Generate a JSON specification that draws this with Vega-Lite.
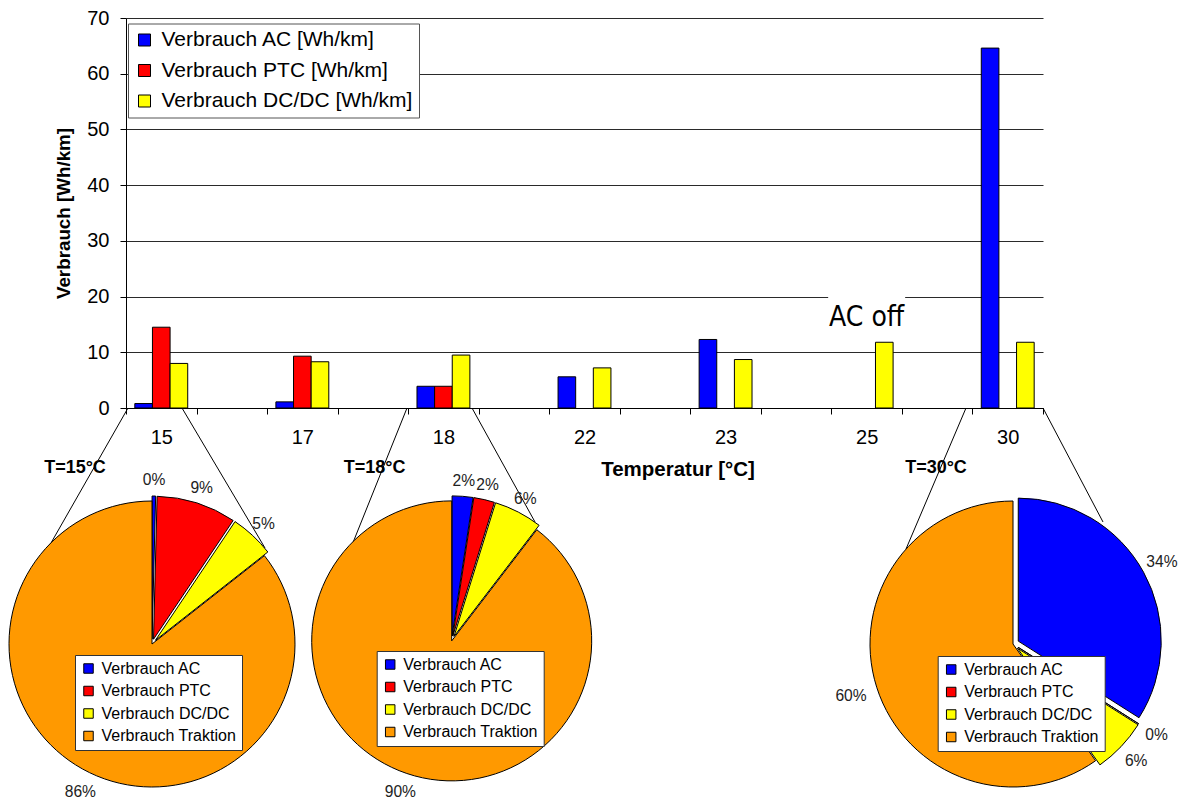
{
  "$schema": "https://vega.github.io/schema/vega-lite/v6.json",
  "width": 917,
  "height": 390,
  "autosize": "none",
  "padding": {"left": 126, "top": 18, "right": 141, "bottom": 393},
  "background": "#ffffff",
  "config": {"view": {"stroke": null}, "font": "Liberation Sans"},
  "title": {
    "text": "Verbrauch in Abhängigkeit von der Temperatur",
    "anchor": "start",
    "frame": "group",
    "dx": 379,
    "dy": -7,
    "offset": 0,
    "baseline": "alphabetic",
    "font": "Liberation Sans",
    "fontSize": 20.7,
    "fontWeight": "bold",
    "color": "#000000"
  },
  "datasets": {
    "verbrauch": [
      {"Temperatur": "15", "Reihe": "Verbrauch AC [Wh/km]", "Wert": 0.8},
      {"Temperatur": "15", "Reihe": "Verbrauch PTC [Wh/km]", "Wert": 14.5},
      {"Temperatur": "15", "Reihe": "Verbrauch DC/DC [Wh/km]", "Wert": 8.0},
      {"Temperatur": "17", "Reihe": "Verbrauch AC [Wh/km]", "Wert": 1.1},
      {"Temperatur": "17", "Reihe": "Verbrauch PTC [Wh/km]", "Wert": 9.3},
      {"Temperatur": "17", "Reihe": "Verbrauch DC/DC [Wh/km]", "Wert": 8.3},
      {"Temperatur": "18", "Reihe": "Verbrauch AC [Wh/km]", "Wert": 3.9},
      {"Temperatur": "18", "Reihe": "Verbrauch PTC [Wh/km]", "Wert": 3.9},
      {"Temperatur": "18", "Reihe": "Verbrauch DC/DC [Wh/km]", "Wert": 9.5},
      {"Temperatur": "22", "Reihe": "Verbrauch AC [Wh/km]", "Wert": 5.6},
      {"Temperatur": "22", "Reihe": "Verbrauch DC/DC [Wh/km]", "Wert": 7.2},
      {"Temperatur": "23", "Reihe": "Verbrauch AC [Wh/km]", "Wert": 12.3},
      {"Temperatur": "23", "Reihe": "Verbrauch DC/DC [Wh/km]", "Wert": 8.7},
      {"Temperatur": "25", "Reihe": "Verbrauch DC/DC [Wh/km]", "Wert": 11.8},
      {"Temperatur": "30", "Reihe": "Verbrauch AC [Wh/km]", "Wert": 64.6},
      {"Temperatur": "30", "Reihe": "Verbrauch DC/DC [Wh/km]", "Wert": 11.8}
    ],
    "anteile": [
      {"Temperatur": "15", "Nr": 1, "Posten": "Verbrauch AC", "Anteil": 0.004},
      {"Temperatur": "15", "Nr": 2, "Posten": "Verbrauch PTC", "Anteil": 0.09},
      {"Temperatur": "15", "Nr": 3, "Posten": "Verbrauch DC/DC", "Anteil": 0.05},
      {"Temperatur": "15", "Nr": 4, "Posten": "Verbrauch Traktion", "Anteil": 0.856},
      {"Temperatur": "18", "Nr": 1, "Posten": "Verbrauch AC", "Anteil": 0.024},
      {"Temperatur": "18", "Nr": 2, "Posten": "Verbrauch PTC", "Anteil": 0.024},
      {"Temperatur": "18", "Nr": 3, "Posten": "Verbrauch DC/DC", "Anteil": 0.056},
      {"Temperatur": "18", "Nr": 4, "Posten": "Verbrauch Traktion", "Anteil": 0.896},
      {"Temperatur": "30", "Nr": 1, "Posten": "Verbrauch AC", "Anteil": 0.34},
      {"Temperatur": "30", "Nr": 2, "Posten": "Verbrauch PTC", "Anteil": 0.0},
      {"Temperatur": "30", "Nr": 3, "Posten": "Verbrauch DC/DC", "Anteil": 0.062},
      {"Temperatur": "30", "Nr": 4, "Posten": "Verbrauch Traktion", "Anteil": 0.598}
    ]
  },
  "layer": [
    {
      "data": {"name": "verbrauch"},
      "mark": {"type": "bar", "stroke": "#000000", "strokeWidth": 1},
      "encoding": {
        "x": {
          "field": "Temperatur", "type": "nominal",
          "scale": {"type": "band", "domain": ["15", "_1", "17", "_2", "18", "_3", "22", "_4", "23", "_5", "25", "_6", "30"], "paddingInner": 0, "paddingOuter": 0},
          "axis": {
            "orient": "bottom", "tickBand": "extent",
            "labelExpr": "test(/^_/, '' + datum.value) ? '' : datum.label",
            "labelAngle": 0, "labelOverlap": false,
            "labelFont": "Liberation Sans", "labelFontSize": 20, "labelColor": "#000000",
            "labelBaseline": "alphabetic", "labelPadding": 29,
            "tickSize": 6, "tickColor": "#000000", "domainColor": "#000000", "grid": false,
            "title": "Temperatur [°C]", "titleFont": "Liberation Sans", "titleFontSize": 20.5,
            "titleFontWeight": "bold", "titleColor": "#000000",
            "titleX": 551.5, "titleY": 67, "titleBaseline": "alphabetic", "titleAlign": "center"
          }
        },
        "xOffset": {
          "field": "Reihe", "type": "nominal",
          "scale": {"domain": ["Verbrauch AC [Wh/km]", "Verbrauch PTC [Wh/km]", "Verbrauch DC/DC [Wh/km]"], "paddingInner": 0, "paddingOuter": 0.5}
        },
        "y": {
          "field": "Wert", "type": "quantitative",
          "scale": {"type": "linear", "domain": [0, 70], "nice": false, "zero": false},
          "axis": {
            "orient": "left", "values": [0, 10, 20, 30, 40, 50, 60, 70],
            "grid": true, "gridColor": "#2a2a2a", "gridWidth": 1,
            "tickSize": 6, "tickColor": "#000000", "domainColor": "#000000",
            "labelFont": "Liberation Sans", "labelFontSize": 20, "labelColor": "#000000", "labelPadding": 11,
            "title": "Verbrauch [Wh/km]", "titleFont": "Liberation Sans", "titleFontSize": 18.8,
            "titleFontWeight": "bold", "titleColor": "#000000", "titleX": -57, "titleBaseline": "alphabetic"
          }
        },
        "color": {
          "field": "Reihe", "type": "nominal",
          "scale": {"domain": ["Verbrauch AC [Wh/km]", "Verbrauch PTC [Wh/km]", "Verbrauch DC/DC [Wh/km]"], "range": ["#0000ff", "#ff0000", "#ffff00"]},
          "legend": {
            "orient": "none", "legendX": 2, "legendY": 5.5, "title": null,
            "symbolType": "square", "symbolSize": 144, "symbolStrokeColor": "#000000", "symbolStrokeWidth": 1,
            "labelFont": "Liberation Sans", "labelFontSize": 21, "labelColor": "#000000", "labelLimit": 400,
            "labelOffset": 6.5, "rowPadding": 8.5, "padding": 6,
            "fillColor": "#ffffff", "strokeColor": "#555555"
          }
        }
      }
    },
    {
      "data": {"values": [{"Temperatur": "25", "Hinweis": "AC off"}]},
      "mark": {"type": "bar", "fill": "#ffffff", "width": 77},
      "encoding": {
        "x": {"field": "Temperatur", "type": "nominal"},
        "y": {"datum": 15.2, "type": "quantitative"},
        "y2": {"datum": 20.4}
      }
    },
    {
      "data": {"values": [{"Temperatur": "25", "Hinweis": "AC off"}]},
      "mark": {"type": "text", "font": "DejaVu Sans Condensed", "fontSize": 28, "baseline": "alphabetic", "align": "center", "color": "#000000"},
      "encoding": {
        "x": {"field": "Temperatur", "type": "nominal"},
        "y": {"datum": 14.7, "type": "quantitative"},
        "text": {"field": "Hinweis"}
      }
    },
    {
      "data": {"values": [{"Temperatur": "15", "Seite": "links"}]},
      "mark": {"type": "rule", "color": "#000000", "strokeWidth": 1},
      "encoding": {
        "x": {"field": "Temperatur", "type": "nominal", "bandPosition": 0.0284},
        "x2": {"field": "Temperatur", "bandPosition": -1.12},
        "y": {"datum": 0, "type": "quantitative"},
        "y2": {"datum": -25.49}
      }
    },
    {
      "data": {"values": [{"Temperatur": "15", "Seite": "rechts"}]},
      "mark": {"type": "rule", "color": "#000000", "strokeWidth": 1},
      "encoding": {
        "x": {"field": "Temperatur", "type": "nominal", "bandPosition": 0.7939},
        "x2": {"field": "Temperatur", "bandPosition": 1.9706},
        "y": {"datum": 0, "type": "quantitative"},
        "y2": {"datum": -25.13}
      }
    },
    {
      "data": {"values": [{"Temperatur": "18", "Seite": "links"}]},
      "mark": {"type": "rule", "color": "#000000", "strokeWidth": 1},
      "encoding": {
        "x": {"field": "Temperatur", "type": "nominal", "bandPosition": -0.0163},
        "x2": {"field": "Temperatur", "bandPosition": -0.8244},
        "y": {"datum": 0, "type": "quantitative"},
        "y2": {"datum": -25.49}
      }
    },
    {
      "data": {"values": [{"Temperatur": "18", "Seite": "rechts"}]},
      "mark": {"type": "rule", "color": "#000000", "strokeWidth": 1},
      "encoding": {
        "x": {"field": "Temperatur", "type": "nominal", "bandPosition": 0.9052},
        "x2": {"field": "Temperatur", "bandPosition": 1.7983},
        "y": {"datum": 0, "type": "quantitative"},
        "y2": {"datum": -20.46}
      }
    },
    {
      "data": {"values": [{"Temperatur": "30", "Seite": "links"}]},
      "mark": {"type": "rule", "color": "#000000", "strokeWidth": 1},
      "encoding": {
        "x": {"field": "Temperatur", "type": "nominal", "bandPosition": -0.0915},
        "x2": {"field": "Temperatur", "bandPosition": -0.9421},
        "y": {"datum": 0, "type": "quantitative"},
        "y2": {"datum": -25.31}
      }
    },
    {
      "data": {"values": [{"Temperatur": "30", "Seite": "rechts"}]},
      "mark": {"type": "rule", "color": "#000000", "strokeWidth": 1},
      "encoding": {
        "x": {"field": "Temperatur", "type": "nominal", "bandPosition": 1.0},
        "x2": {"field": "Temperatur", "bandPosition": 1.8507},
        "y": {"datum": 0, "type": "quantitative"},
        "y2": {"datum": -20.46}
      }
    },
    {
      "data": {"name": "anteile"},
      "transform": [{"filter": "datum.Temperatur === '15'"}],
      "mark": {"type": "arc", "outerRadius": 143, "stroke": "#000000", "strokeWidth": 1,
               "xOffset": {"expr": "datum.Posten === 'Verbrauch Traktion' ? 0 : 5 * sin(PI * (datum.Anteil_start + datum.Anteil_end))"},
               "yOffset": {"expr": "datum.Posten === 'Verbrauch Traktion' ? 0 : -5 * cos(PI * (datum.Anteil_start + datum.Anteil_end))"}},
      "encoding": {
        "theta": {"field": "Anteil", "type": "quantitative", "stack": true},
        "order": {"field": "Nr", "type": "quantitative"},
        "color": {
          "field": "Posten", "type": "nominal",
          "scale": {"domain": ["Verbrauch AC", "Verbrauch PTC", "Verbrauch DC/DC", "Verbrauch Traktion"], "range": ["#0000ff", "#ff0000", "#ffff00", "#ff9900"]},
          "legend": {
            "orient": "none", "legendX": -51, "legendY": 637, "title": null,
            "symbolType": "square", "symbolSize": 90, "symbolStrokeColor": "#000000", "symbolStrokeWidth": 1,
            "labelFont": "Liberation Sans", "labelFontSize": 16, "labelColor": "#000000", "labelLimit": 400,
            "labelOffset": 5, "rowPadding": 6.5, "padding": 5.5,
            "fillColor": "#ffffff", "strokeColor": "#333333"
          }
        },
        "x": {"field": "Temperatur", "type": "nominal", "bandPosition": 0.3686},
        "y": {"datum": -42.36, "type": "quantitative"}
      }
    },
    {
      "data": {"name": "anteile"},
      "transform": [{"filter": "datum.Temperatur === '15'"}],
      "mark": {"type": "text", "radius": 164, "fontSize": 15.6, "color": "#222222", "align": "center", "baseline": "middle"},
      "encoding": {
        "theta": {"field": "Anteil", "type": "quantitative", "stack": true},
        "order": {"field": "Nr", "type": "quantitative"},
        "detail": {"field": "Posten", "type": "nominal"},
        "text": {"field": "Anteil", "type": "quantitative", "format": ".0%"},
        "x": {"field": "Temperatur", "type": "nominal", "bandPosition": 0.3686},
        "y": {"datum": -42.36, "type": "quantitative"}
      }
    },
    {
      "data": {"values": [{"Temperatur": "15", "Titel": "T=15°C"}]},
      "mark": {"type": "text", "fontSize": 18, "fontWeight": "bold", "color": "#000000", "align": "center", "baseline": "alphabetic", "dx": -77},
      "encoding": {
        "text": {"field": "Titel"},
        "x": {"field": "Temperatur", "type": "nominal", "bandPosition": 0.3686},
        "y": {"datum": -11.67, "type": "quantitative"}
      }
    },
    {
      "data": {"name": "anteile"},
      "transform": [{"filter": "datum.Temperatur === '18'"}],
      "mark": {"type": "arc", "outerRadius": 140, "stroke": "#000000", "strokeWidth": 1,
               "xOffset": {"expr": "datum.Posten === 'Verbrauch Traktion' ? 0 : 5 * sin(PI * (datum.Anteil_start + datum.Anteil_end))"},
               "yOffset": {"expr": "datum.Posten === 'Verbrauch Traktion' ? 0 : -5 * cos(PI * (datum.Anteil_start + datum.Anteil_end))"}},
      "encoding": {
        "theta": {"field": "Anteil", "type": "quantitative", "stack": true},
        "order": {"field": "Nr", "type": "quantitative"},
        "color": {
          "field": "Posten", "type": "nominal",
          "scale": {"domain": ["Verbrauch AC", "Verbrauch PTC", "Verbrauch DC/DC", "Verbrauch Traktion"], "range": ["#0000ff", "#ff0000", "#ffff00", "#ff9900"]},
          "legend": {
            "orient": "none", "legendX": 250.7, "legendY": 633, "title": null,
            "symbolType": "square", "symbolSize": 90, "symbolStrokeColor": "#000000", "symbolStrokeWidth": 1,
            "labelFont": "Liberation Sans", "labelFontSize": 16, "labelColor": "#000000", "labelLimit": 400,
            "labelOffset": 5, "rowPadding": 6.5, "padding": 5.5,
            "fillColor": "#ffffff", "strokeColor": "#333333"
          }
        },
        "x": {"field": "Temperatur", "type": "nominal", "bandPosition": 0.6173},
        "y": {"datum": -41.8, "type": "quantitative"}
      }
    },
    {
      "data": {"name": "anteile"},
      "transform": [{"filter": "datum.Temperatur === '18'"}],
      "mark": {"type": "text", "radius": 160, "fontSize": 15.6, "color": "#222222", "align": "center", "baseline": "middle"},
      "encoding": {
        "theta": {"field": "Anteil", "type": "quantitative", "stack": true},
        "order": {"field": "Nr", "type": "quantitative"},
        "detail": {"field": "Posten", "type": "nominal"},
        "text": {"field": "Anteil", "type": "quantitative", "format": ".0%"},
        "x": {"field": "Temperatur", "type": "nominal", "bandPosition": 0.6173},
        "y": {"datum": -41.8, "type": "quantitative"}
      }
    },
    {
      "data": {"values": [{"Temperatur": "18", "Titel": "T=18°C"}]},
      "mark": {"type": "text", "fontSize": 18, "fontWeight": "bold", "color": "#000000", "align": "center", "baseline": "alphabetic", "dx": -77},
      "encoding": {
        "text": {"field": "Titel"},
        "x": {"field": "Temperatur", "type": "nominal", "bandPosition": 0.6173},
        "y": {"datum": -11.67, "type": "quantitative"}
      }
    },
    {
      "data": {"name": "anteile"},
      "transform": [{"filter": "datum.Temperatur === '30'"}],
      "mark": {"type": "arc", "outerRadius": 143, "stroke": "#000000", "strokeWidth": 1,
               "xOffset": {"expr": "datum.Posten === 'Verbrauch Traktion' ? 0 : 6 * sin(PI * (datum.Anteil_start + datum.Anteil_end))"},
               "yOffset": {"expr": "datum.Posten === 'Verbrauch Traktion' ? 0 : -6 * cos(PI * (datum.Anteil_start + datum.Anteil_end))"}},
      "encoding": {
        "theta": {"field": "Anteil", "type": "quantitative", "stack": true},
        "order": {"field": "Nr", "type": "quantitative"},
        "color": {
          "field": "Posten", "type": "nominal",
          "scale": {"domain": ["Verbrauch AC", "Verbrauch PTC", "Verbrauch DC/DC", "Verbrauch Traktion"], "range": ["#0000ff", "#ff0000", "#ffff00", "#ff9900"]},
          "legend": {
            "orient": "none", "legendX": 811.7, "legendY": 638, "title": null,
            "symbolType": "square", "symbolSize": 90, "symbolStrokeColor": "#000000", "symbolStrokeWidth": 1,
            "labelFont": "Liberation Sans", "labelFontSize": 16, "labelColor": "#000000", "labelLimit": 400,
            "labelOffset": 5, "rowPadding": 6.5, "padding": 5.5,
            "fillColor": "#ffffff", "strokeColor": "#333333"
          }
        },
        "x": {"field": "Temperatur", "type": "nominal", "bandPosition": 0.5747},
        "y": {"datum": -42.36, "type": "quantitative"}
      }
    },
    {
      "data": {"name": "anteile"},
      "transform": [{"filter": "datum.Temperatur === '30'"}],
      "mark": {"type": "text", "radius": 170, "fontSize": 15.6, "color": "#222222", "align": "center", "baseline": "middle"},
      "encoding": {
        "theta": {"field": "Anteil", "type": "quantitative", "stack": true},
        "order": {"field": "Nr", "type": "quantitative"},
        "detail": {"field": "Posten", "type": "nominal"},
        "text": {"field": "Anteil", "type": "quantitative", "format": ".0%"},
        "x": {"field": "Temperatur", "type": "nominal", "bandPosition": 0.5747},
        "y": {"datum": -42.36, "type": "quantitative"}
      }
    },
    {
      "data": {"values": [{"Temperatur": "30", "Titel": "T=30°C"}]},
      "mark": {"type": "text", "fontSize": 18, "fontWeight": "bold", "color": "#000000", "align": "center", "baseline": "alphabetic", "dx": -77},
      "encoding": {
        "text": {"field": "Titel"},
        "x": {"field": "Temperatur", "type": "nominal", "bandPosition": 0.5747},
        "y": {"datum": -11.67, "type": "quantitative"}
      }
    }
  ],
  "resolve": {"scale": {"color": "independent"}}
}
